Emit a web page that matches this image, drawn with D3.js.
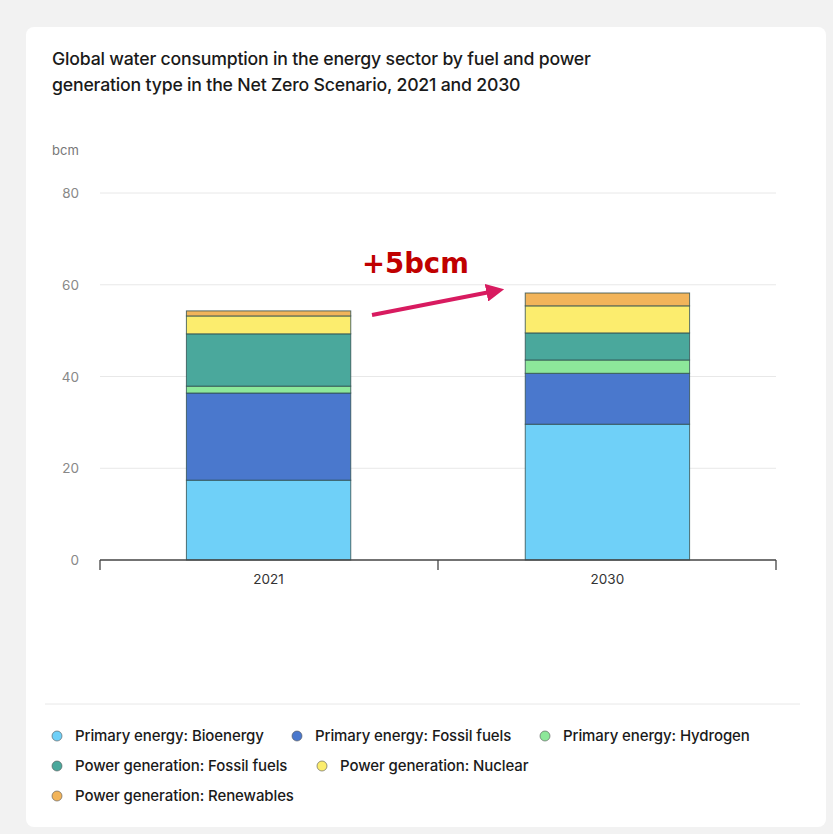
<!DOCTYPE html>
<html>
<head>
<meta charset="utf-8">
<script src="https://cdn.jsdelivr.net/npm/d3@7"></script>
<style>
  body { margin: 0; background: #f2f2f2; }
  svg { display: block; font-family: Inter, "Open Sans", sans-serif; }
</style>
</head>
<body>
<div class="canvas"></div>
<script>
// Datas
const years = ['2021', '2030'];
const series = [
    'Primary energy: Bioenergy',
    'Primary energy: Fossil fuels',
    'Primary energy: Hydrogen',
    'Power generation: Fossil fuels',
    'Power generation: Nuclear',
    'Power generation: Renewables'
];
const values2021 = [17.4, 19.0, 1.5, 11.4, 3.9, 1.1];
const values2030 = [29.6, 11.1, 2.9, 5.9, 5.9, 2.8];
const colors = ['#6fd0f8', '#4a78cd', '#8de89a', '#4aa89c', '#fced6e', '#f2b45a'];
const yTicks = [0, 20, 40, 60, 80];

// Dims
const dims = { width: 833, height: 834, left: 100, right: 776, top: 193, bottom: 560 };

const svg = d3.select('.canvas')
    .append('svg')
    .attr('width', dims.width)
    .attr('height', dims.height);

// Card
svg.append('rect')
    .attr('x', 26).attr('y', 27)
    .attr('width', 800).attr('height', 800)
    .attr('rx', 8)
    .attr('fill', '#fff');

// Title
const title = svg.append('text')
    .attr('x', 52).attr('y', 65)
    .attr('font-size', 17.7)
    .attr('font-weight', 500)
    .attr('letter-spacing', -0.2)
    .attr('fill', '#1a1a1a');
title.append('tspan').attr('x', 52).text('Global water consumption in the energy sector by fuel and power');
title.append('tspan').attr('x', 52).attr('dy', 26).text('generation type in the Net Zero Scenario, 2021 and 2030');

svg.append('text')
    .attr('x', 52).attr('y', 155)
    .attr('font-size', 13)
    .attr('fill', '#777')
    .text('bcm');

// Scales
const x = d3.scaleBand()
    .domain(years)
    .range([dims.left, dims.right])
    .paddingInner(0.515)
    .paddingOuter(0.255);

const y = d3.scaleLinear()
    .domain([0, 80])
    .range([dims.bottom, dims.top]);

const color = d3.scaleOrdinal().domain(series).range(colors);

// Grid
svg.append('g')
    .selectAll('line')
    .data(yTicks.filter(d => d > 0))
    .enter()
    .append('line')
    .attr('x1', dims.left).attr('x2', dims.right)
    .attr('y1', d => y(d)).attr('y2', d => y(d))
    .attr('stroke', '#e8e8e8');

svg.append('g')
    .selectAll('text')
    .data(yTicks)
    .enter()
    .append('text')
    .attr('x', 79)
    .attr('y', d => y(d) + 5)
    .attr('text-anchor', 'end')
    .attr('font-size', 13.5)
    .attr('fill', '#888')
    .text(d => d);

// Stacked data
const table = years.map((yr, i) => {
    const row = { year: yr };
    const vals = i === 0 ? values2021 : values2030;
    series.forEach((s, j) => row[s] = vals[j]);
    return row;
});
const stacked = d3.stack().keys(series)(table);

svg.append('g')
    .selectAll('g')
    .data(stacked)
    .enter()
    .append('g')
    .attr('fill', d => color(d.key))
    .selectAll('rect')
    .data(d => d)
    .enter()
    .append('rect')
    .attr('x', d => x(d.data.year))
    .attr('width', x.bandwidth())
    .attr('y', d => y(d[1]))
    .attr('height', d => y(d[0]) - y(d[1]))
    .attr('stroke', '#2f4f4f')
    .attr('stroke-opacity', 0.8)
    .attr('stroke-width', 1);

// X axis
const xAxis = svg.append('g')
    .attr('transform', `translate(0, ${dims.bottom})`);
xAxis.append('line')
    .attr('x1', dims.left).attr('x2', dims.right)
    .attr('stroke', '#444').attr('stroke-width', 1.3);
const boundaries = [dims.left, (dims.left + dims.right) / 2, dims.right];
xAxis.selectAll('.tick')
    .data(boundaries)
    .enter()
    .append('line')
    .attr('x1', d => d).attr('x2', d => d)
    .attr('y1', 0).attr('y2', 10)
    .attr('stroke', '#444').attr('stroke-width', 1.3);
xAxis.selectAll('text')
    .data(years)
    .enter()
    .append('text')
    .attr('x', d => x(d) + x.bandwidth() / 2)
    .attr('y', 24)
    .attr('text-anchor', 'middle')
    .attr('font-size', 13.5)
    .attr('fill', '#333')
    .text(d => d);

// Annotation
svg.append('defs').append('marker')
    .attr('id', 'arrow')
    .attr('viewBox', '0 0 10 10')
    .attr('refX', 2).attr('refY', 5)
    .attr('markerWidth', 4.5).attr('markerHeight', 4.5)
    .attr('orient', 'auto')
    .append('path')
    .attr('d', 'M0,0 L10,5 L0,10 Z')
    .attr('fill', '#d81b60');

svg.append('line')
    .attr('x1', 372).attr('y1', 315)
    .attr('x2', 490).attr('y2', 292)
    .attr('stroke', '#d81b60')
    .attr('stroke-width', 4)
    .attr('marker-end', 'url(#arrow)');

svg.append('text')
    .attr('x', 362).attr('y', 273)
    .attr('font-size', 27.5)
    .attr('font-weight', 'bold')
    .attr('font-family', '"DejaVu Sans", sans-serif')
    .attr('fill', '#c00000')
    .text('+5bcm');

// Legend
svg.append('line')
    .attr('x1', 45).attr('x2', 800)
    .attr('y1', 704).attr('y2', 704)
    .attr('stroke', '#e8e8e8');

const legendPos = [
    [57, 736], [297, 736], [545, 736],
    [57, 766], [322, 766],
    [57, 796]
];
const legend = svg.append('g')
    .selectAll('g')
    .data(series)
    .enter()
    .append('g')
    .attr('transform', (d, i) => `translate(${legendPos[i][0]}, ${legendPos[i][1]})`);
legend.append('circle')
    .attr('r', 5)
    .attr('fill', d => color(d))
    .attr('stroke', '#555')
    .attr('stroke-opacity', 0.6);
legend.append('text')
    .attr('x', 18)
    .attr('y', 5)
    .attr('font-size', 15)
    .attr('font-weight', 500)
    .attr('letter-spacing', -0.1)
    .attr('fill', '#1a1a1a')
    .text(d => d);
</script>
</body>
</html>
